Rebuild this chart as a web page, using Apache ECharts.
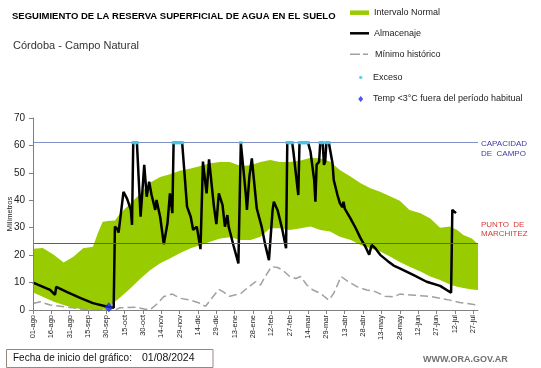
<!DOCTYPE html>
<html>
<head>
<meta charset="utf-8">
<script src="https://cdn.jsdelivr.net/npm/echarts@6/dist/echarts.min.js"></script>
<style>
html,body{margin:0;padding:0;background:#fff;}
#chart{width:541px;height:368px;}
</style>
</head>
<body>
<div id="chart"></div>
<script>
// x values are days since the chart start date (01/08/2024)
const tickLabels = ['01-ago','16-ago','31-ago','15-sep','30-sep','15-oct','30-oct','14-nov','29-nov','14-dic','29-dic','13-ene','28-ene','12-feb','27-feb','14-mar','29-mar','13-abr','28-abr','13-may','28-may','12-jun','27-jun','12-jul','27-jul'];
const tickStepDays = 15;
const lastDay = 364;

const capacidad = 61;
const marchitez = 24.2;

const bandDays  = [0,8,17,25,33,41,49,53,57,63,67,71,80,88,96,104,112,120,129,137,145,153,161,170,178,186,194,202,210,219,227,235,243,251,260,268,276,284,292,300,308,317,325,333,341,347,352,359,364];
const bandUpper = [22.3,22.6,20.1,17.3,19.4,22.5,23.1,28,32.2,32.5,32.6,35,39,42.5,46.5,48.5,49.5,50.8,51.6,52.5,53.5,54,54,52.5,52.8,54,54.7,54,54,54.5,55.5,55.2,54.1,51,48.6,46.2,44.4,43.1,41.5,39.8,36.5,35.3,33.4,30,30.4,29.2,27.3,26.1,24];
const bandLower = [6.4,4.8,3,1.8,0.8,0.2,0,0,0,1.5,3,4.5,8,11.5,14.6,17,18.8,20.7,22.5,23.7,24.9,26.1,26.5,25.5,25.5,26.7,29.8,29.8,29.2,29.8,30.4,29.2,28.6,26.7,25.5,23.7,22.5,21.3,19.5,17.5,15.8,14,12.2,10.9,9.3,8.5,8,7.5,7.3];

const almDays   = [0,14,18,19,28,39,49,61,66,67,69,70,74,77,80,81,82,85,88,89,91,93,95,97,100,101,104,107,110,112,114,115,122,126,129,131,134,137,139,142,144,148,150,152,155,157,159,160,164,168,170,174,175,177,179,181,183,187,190,193,196,197,200,204,207,208,212,213,217,218,225,227,230,231,232,234,235,237,238,239,240,242,245,246,249,251,253,254,255,260,264,268,272,275,277,280,284,290,295,300,311,322,333,342,343,346];
const almValues = [10,7.3,5.5,8.4,6.5,4.3,2.5,1.2,0.8,30.4,29.5,28.2,43.1,40.5,36.5,31,61,61,34,33.4,52.9,41.3,46.8,41.9,36.5,40.1,34,24,31.6,42.5,35.3,61,61,37.7,34,29.2,30.4,22.2,54.1,42.5,54.9,37.7,31.3,42.5,38.3,30.4,34.6,30.5,23.5,17,61,42.5,36.5,48.6,55.3,46.2,37.1,30.4,23.7,18.2,36.5,39.5,36.5,29.2,22.5,61,61,57.7,41.9,61,61,57.7,47.4,39.5,53,54,61,61,52.9,54,61,61,53.5,47.4,42,39,37.5,39.5,37,33.1,29.8,26.1,23,20.2,23.7,22.5,20.1,17.9,16.2,15.2,12.8,10.3,8.8,6.3,36.5,35.3];

const minDays   = [0,6,14,28,39,47,67,71,84,92,96,102,107,114,120,129,137,141,145,152,156,161,170,175,182,186,190,195,200,204,210,215,219,224,229,235,242,246,252,258,265,273,280,288,295,300,309,317,325,333,341,349,358,364];
const minValues = [2.4,3,1.8,1,0.4,0,0,0.8,1,0.3,0.2,2.4,4.9,5.8,4.3,3.6,2.4,1.3,3.6,7.5,6.5,5,6,7.9,10.3,9.1,12.2,15.8,15.5,14.6,12.2,11.5,12.2,9.1,7.3,6.1,3.6,6.1,12.2,10.3,8.5,7.3,6.7,5,4.8,5.8,5.5,5.2,4.9,4.3,3.6,2.7,2.2,1.8];

const excesoDays = [82,83,84,85,115,116,117,118,119,120,121,122,170,208,209,210,211,212,218,219,220,221,222,223,224,225,235,236,237,240,241,242];
const tempDays   = [62];
const tempValues = [1];

const FONT = 'Liberation Sans';
const zip = (a, b) => a.map((v, i) => [v, b[i]]);
const tickValues = tickLabels.map((_, i) => i * tickStepDays);

const chart = echarts.init(document.getElementById('chart'), null, {renderer: 'canvas'});
const legendText = (pad) => ({fontSize: 9, color: '#222', fontFamily: FONT, lineHeight: 10, padding: [0, 0, 0, pad]});

function renderBand(params, api) {
  const top = bandDays.map((d, i) => api.coord([d, bandUpper[i]]));
  const bottom = bandDays.map((d, i) => api.coord([d, bandLower[i]])).reverse();
  return {type: 'polygon', shape: {points: top.concat(bottom)}, style: {fill: '#99cc00', stroke: null}, silent: true};
}

chart.setOption({
  animation: false,
  backgroundColor: '#fff',
  title: [
    {text: 'SEGUIMIENTO DE LA RESERVA SUPERFICIAL DE AGUA EN EL SUELO', left: 12, top: 11, padding: 0,
     textStyle: {fontSize: 9.5, fontWeight: 'bold', color: '#000', fontFamily: FONT, lineHeight: 10}},
    {text: 'Córdoba - Campo Natural', left: 13, top: 39, padding: 0,
     textStyle: {fontSize: 11, fontWeight: 'normal', color: '#333', fontFamily: FONT, lineHeight: 13}}
  ],
  legend: [
    {data: [{name: 'Intervalo Normal', icon: 'rect', itemStyle: {color: '#99cc00'}}], left: 350, top: 7.7, padding: 0,
     itemWidth: 19, itemHeight: 4.5, selectedMode: false, textStyle: legendText(0)},
    {data: [{name: 'Almacenaje', icon: 'rect', itemStyle: {color: '#000'}}], left: 350, top: 28.3, padding: 0,
     itemWidth: 19, itemHeight: 2.5, selectedMode: false, textStyle: legendText(0)},
    {data: [{name: 'Mínimo histórico', icon: 'path://M0,0h10v1.5h-10z M13,0h5v1.5h-5z', itemStyle: {color: '#a0a0a0'}}], left: 350, top: 49.3, padding: 0,
     itemWidth: 18, itemHeight: 1.5, selectedMode: false, textStyle: legendText(2)},
    {data: [{name: 'Exceso', icon: 'circle', itemStyle: {color: '#45c6e8'}}], left: 359, top: 72.5, padding: 0,
     itemWidth: 3.5, itemHeight: 3.5, selectedMode: false, textStyle: legendText(5.5)},
    {data: [{name: 'Temp <3°C fuera del período habitual', icon: 'diamond', itemStyle: {color: '#1a2ee6'}}], left: 358.2, top: 94, padding: 0,
     itemWidth: 5, itemHeight: 6, selectedMode: false, textStyle: legendText(4.8)}
  ],
  grid: {left: 33, right: 63, top: 118, bottom: 58, containLabel: false, outerBoundsMode: 'none'},
  xAxis: {
    type: 'value', min: 0, max: lastDay, z: 10,
    splitLine: {show: false},
    axisLine: {lineStyle: {color: '#808080', width: 1}},
    axisTick: {show: true, length: 4, customValues: tickValues, lineStyle: {color: '#808080'}},
    axisLabel: {
      customValues: tickValues, rotate: 90, margin: 5, fontSize: 7.5, color: '#222', fontFamily: FONT,
      formatter: (v) => tickLabels[Math.round(v / tickStepDays)] || ''
    }
  },
  yAxis: {
    type: 'value', min: 0, max: 70, interval: 10, z: 10,
    name: 'Milímetros', nameLocation: 'middle', nameRotate: 90, nameGap: 19.5, nameMoveOverlap: false,
    nameTextStyle: {fontSize: 7.5, color: '#222', fontFamily: FONT},
    splitLine: {show: false},
    axisLine: {show: true, lineStyle: {color: '#808080', width: 1}},
    axisTick: {show: true, length: 4, lineStyle: {color: '#808080'}},
    axisLabel: {fontSize: 10, color: '#222', fontFamily: FONT, margin: 8}
  },
  series: [
    {name: 'Intervalo Normal', type: 'custom', renderItem: renderBand, data: [[0, 0]],
     itemStyle: {color: '#99cc00'}, silent: true, z: 1},
    {name: 'Mínimo histórico', type: 'line', data: zip(minDays, minValues), symbol: 'none',
     lineStyle: {color: '#a0a0a0', width: 1.5, type: [8, 4]}, itemStyle: {color: '#a0a0a0'}, z: 3,
     markLine: {
       silent: true, symbol: 'none', animation: false,
       data: [
         {yAxis: capacidad, lineStyle: {color: '#8191c4', width: 1, type: 'solid'},
          label: {show: true, position: 'end', distance: 3, formatter: '{sp| }\n{t|CAPACIDAD}\n{t|DE  CAMPO}',
                  align: 'left',
                  rich: {sp: {fontSize: 1, lineHeight: 12.3},
                         t: {fontSize: 8, lineHeight: 9.3, color: '#3b3ba6', fontFamily: FONT}}}},
         {yAxis: marchitez, lineStyle: {color: '#a8443c', width: 1.2, type: 'solid'},
          label: {show: true, position: 'end', distance: 3, formatter: 'PUNTO  DE\nMARCHITEZ\n \n \n ', color: '#d23a3a',
                  fontSize: 8, lineHeight: 9.5, fontFamily: FONT, align: 'left'}}
       ]
     }},
    {name: 'Almacenaje', type: 'line', data: zip(almDays, almValues), symbol: 'none',
     lineStyle: {color: '#000', width: 2.5}, itemStyle: {color: '#000'}, z: 4},
    {name: 'Exceso', type: 'scatter', data: excesoDays.map(d => [d, capacidad]), symbol: 'rect', symbolSize: [4, 3],
     itemStyle: {color: '#45c6e8'}, z: 5},
    {name: 'Temp <3°C fuera del período habitual', type: 'scatter', data: zip(tempDays, tempValues), symbol: 'diamond',
     symbolSize: [9, 10], itemStyle: {color: '#1a2ee6'}, z: 12, clip: false}
  ],
  graphic: [
    {type: 'rect', shape: {x: 6.5, y: 349.5, width: 206.5, height: 18}, style: {fill: '#fff', stroke: '#9a8585', lineWidth: 1}},
    {type: 'text', x: 13, y: 358.5, style: {text: 'Fecha de inicio del gráfico:', font: '10px "Liberation Sans"', fill: '#111', verticalAlign: 'middle'}},
    {type: 'text', x: 142, y: 358.5, style: {text: '01/08/2024', font: '10.5px "Liberation Sans"', fill: '#111', verticalAlign: 'middle'}},
    {type: 'text', x: 423, y: 360, style: {text: 'WWW.ORA.GOV.AR', font: 'bold 9px "Liberation Sans"', fill: '#707070', verticalAlign: 'middle'}}
  ]
});
</script>
</body>
</html>
